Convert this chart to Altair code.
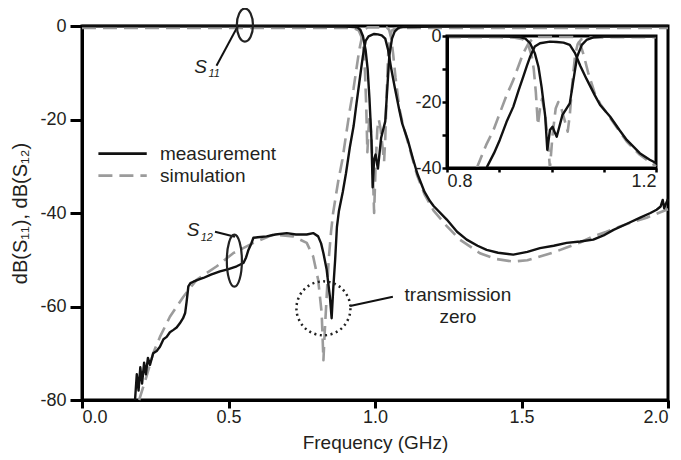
import altair as alt
import pandas as pd
import numpy as np

# ---------------- data ----------------
s11_meas_f = [0.0, 0.5, 0.9, 0.94, 0.95, 0.959, 0.968, 0.975, 0.981, 0.988,
              0.992, 0.997, 1.002, 1.007, 1.010, 1.015, 1.021, 1.029, 1.035, 1.042,
              1.049, 1.058, 1.067, 1.08, 1.1, 1.2, 2.0]
s11_meas_db = [0, 0, -0.1, -0.3, -0.8, -2.2, -5.2, -9.3, -15.4, -24.4,
               -34.5, -28.5, -27.5, -29.5, -30.5, -27.5, -23.9, -21.9, -20.4, -13.3,
               -6.3, -2.7, -1.2, -0.4, -0.2, -0.1, 0]

s11_sim_f = [0.0, 0.9, 0.93, 0.945, 0.955, 0.962, 0.966, 0.97, 0.974, 0.978,
             0.982, 0.988, 0.993, 0.997, 1.002, 1.008, 1.013, 1.019, 1.026, 1.031,
             1.035, 1.04, 1.045, 1.05, 1.057, 1.07, 1.1, 2.0]
s11_sim_db = [-0.4, -0.4, -0.5, -1.0, -2.5, -6, -10, -17, -27, -22,
              -19, -24, -32, -40, -30, -22, -20, -22, -26, -29,
              -24, -14, -6, -2.5, -1.0, -0.5, -0.4, -0.4]

s12_meas_f = [0.181, 0.187, 0.193, 0.199, 0.205, 0.212, 0.218, 0.225, 0.232, 0.243,
              0.255, 0.266, 0.278, 0.289, 0.300, 0.312, 0.323, 0.334, 0.345, 0.352,
              0.357, 0.363, 0.370, 0.380, 0.395, 0.414, 0.440, 0.471, 0.500, 0.528,
              0.551, 0.560, 0.568, 0.578, 0.585, 0.600, 0.630, 0.660, 0.699, 0.730,
              0.767, 0.789, 0.806, 0.816, 0.824, 0.835, 0.846, 0.852, 0.858, 0.864,
              0.870, 0.877, 0.890, 0.901, 0.914, 0.927, 0.937, 0.946, 0.953, 0.959,
              0.968, 0.978, 0.997, 1.010, 1.023, 1.035, 1.045, 1.055, 1.067, 1.083,
              1.093, 1.112, 1.130, 1.144, 1.169, 1.188, 1.200, 1.245, 1.280, 1.313,
              1.350, 1.381, 1.420, 1.472, 1.520, 1.563, 1.610, 1.654, 1.700, 1.745,
              1.780, 1.814, 1.860, 1.905, 1.940, 1.961, 1.975, 1.982, 1.987, 1.993, 2.000]
s12_meas_db = [-80, -74.5, -78, -73, -76.5, -72, -74.5, -71, -72.5, -70,
               -69.5, -68.6, -67, -66.5, -65.5, -65, -64.5, -63.6, -62.5, -61.4,
               -59, -55.7, -55, -54.7, -54.3, -53.9, -53.2, -52.5, -52, -51.4,
               -50.7, -49.5, -47.9, -46.5, -45.3, -45.2, -45, -44.6, -44.3, -44.6,
               -44.6, -44.3, -45, -46.5, -48.6, -52.1, -57.9, -62.5, -55.7, -50,
               -43, -39.5, -35.5, -31.5, -26, -21.4, -16.5, -12.3, -9, -6.3,
               -3.2, -2.2, -1.7, -1.8, -2, -2.7, -5.2, -9, -13, -18,
               -20.9, -24.4, -28.5, -31.5, -35.5, -37.5, -38.5, -41.4, -44, -45.7,
               -47, -47.9, -48.5, -48.9, -48.3, -47.5, -47, -46.4, -46.1, -45.7,
               -44.8, -43.6, -42.3, -41, -40, -39.3, -38.6, -37.2, -39, -38, -37]

s12_sim_f = [0.195, 0.22, 0.243, 0.266, 0.300, 0.346, 0.391, 0.460, 0.516, 0.585,
             0.653, 0.721, 0.767, 0.789, 0.806, 0.818, 0.824, 0.828, 0.835, 0.842,
             0.850, 0.857, 0.875, 0.889, 0.901, 0.914, 0.927, 0.937, 0.946, 0.956,
             0.965, 0.975, 1.040, 1.048, 1.055, 1.062, 1.070, 1.083, 1.093, 1.112,
             1.144, 1.169, 1.200, 1.245, 1.290, 1.358, 1.410, 1.472, 1.520, 1.563,
             1.610, 1.654, 1.700, 1.745, 1.790, 1.836, 1.880, 1.927, 1.960, 1.995, 2.0]
s12_sim_db = [-80, -75, -70, -66.5, -62.2, -57.9, -54.3, -51.4, -48.6, -46.4,
              -44.6, -45, -46.4, -49.3, -54.3, -61.4, -71.5, -66, -57.9, -50,
              -44, -40, -33, -28.5, -23.4, -18, -13.3, -9, -5.2, -2.2,
              -0.7, -0.3, -0.3, -0.8, -2.5, -6, -11, -17.5, -20.5, -24.8,
              -32, -36, -39.5, -42.8, -45.7, -48.6, -49.8, -50.4, -50.1, -49.3,
              -48.4, -47.4, -46.3, -45, -44, -42.9, -41.9, -41, -40.2, -39.3, -39.2]

x_ticks = [0.0, 0.5, 1.0, 1.5, 2.0]
y_ticks = [0, -20, -40, -60, -80]
inset_x_ticks = [0.8, 0.9, 1.0, 1.1, 1.2]
inset_y_ticks = [0, -10, -20, -30, -40]

legend_labels = ["measurement", "simulation"]
note_lines = ["transmission", "zero"]

# ---------------- style ----------------
GRAY = '#9b9b9b'
BLACK = '#111111'
TXT = '#231f20'
FONT = 'Liberation Sans'
W, H = 586, 374
DASH = [14, 7]


def curve_df(pairs):
    frames = []
    for name, f, d in pairs:
        frames.append(pd.DataFrame({'f': f, 'dB': d, 'curve': name,
                                    'i': np.arange(len(f))}))
    return pd.concat(frames, ignore_index=True)


def clip_seg(x0, y0, x1, y1, xmin, xmax, ymin, ymax):
    dx, dy = x1 - x0, y1 - y0
    u0, u1 = 0.0, 1.0
    for p, q in ((-dx, x0 - xmin), (dx, xmax - x0), (-dy, y0 - ymin), (dy, ymax - y0)):
        if p == 0:
            if q < 0:
                return None
        else:
            t = q / p
            if p < 0:
                u0 = max(u0, t)
            else:
                u1 = min(u1, t)
    if u0 > u1:
        return None
    return x0 + u0 * dx, y0 + u0 * dy, x0 + u1 * dx, y0 + u1 * dy


def clipped_df(pairs, xmin, xmax, ymin, ymax):
    rows = []
    for name, f, d in pairs:
        piece, last = 0, None
        for k in range(len(f) - 1):
            seg = clip_seg(f[k], d[k], f[k + 1], d[k + 1], xmin, xmax, ymin, ymax)
            if seg is None:
                last = None
                continue
            a, b, c, e = seg
            if last is None or abs(last[0] - a) > 1e-12 or abs(last[1] - b) > 1e-12:
                piece += 1
                rows.append((a, b, f'{name}-{piece}'))
            rows.append((c, e, f'{name}-{piece}'))
            last = (c, e)
    df = pd.DataFrame(rows, columns=['f', 'dB', 'curve'])
    df['i'] = np.arange(len(df))
    return df


sim_pairs = [('S11', s11_sim_f, s11_sim_db), ('S12', s12_sim_f, s12_sim_db)]
meas_pairs = [('S11', s11_meas_f, s11_meas_db), ('S12', s12_meas_f, s12_meas_db)]

# ---------------- main panel ----------------
mx = alt.Scale(domain=[0, 2], nice=False, zero=False)
my = alt.Scale(domain=[-80, 0], nice=False, zero=False)

X = alt.X('f:Q', scale=mx, axis=alt.Axis(
    values=x_ticks, format='.1f', title='Frequency (GHz)', grid=False,
    domainColor='black', domainWidth=3, tickColor='black', tickWidth=3, tickSize=8,
    labelFontSize=18, labelColor=TXT, labelPadding=0, labelFont=FONT,
    titleFontSize=19, titleFontWeight='normal', titleColor=TXT, titleFont=FONT,
    titleX=W / 2, titleY=42, titleBaseline='middle', titleAlign='center'))
Y = alt.Y('dB:Q', scale=my, axis=alt.Axis(
    values=y_ticks, labelExpr="'' + datum.value", title='dB(S₁₁), dB(S₁₂)', grid=False,
    domainColor='black', domainWidth=3, tickColor='black', tickWidth=3, tickSize=12,
    labelFontSize=18, labelColor=TXT, labelPadding=4, labelFont=FONT,
    titleFontSize=20, titleFontWeight='normal', titleColor=TXT, titleFont=FONT,
    titleX=-62, titleY=H / 2, titleAngle=270, titleBaseline='middle', titleAlign='center'))

main_sim = alt.Chart(curve_df(sim_pairs)).mark_line(
    color=GRAY, strokeWidth=2.6, strokeDash=DASH, strokeJoin='round').encode(
    x=X, y=Y, detail='curve:N', order='i:Q')
main_meas = alt.Chart(curve_df(meas_pairs)).mark_line(
    color=BLACK, strokeWidth=2.4, strokeJoin='round').encode(
    x=X, y=Y, detail='curve:N', order='i:Q')

# legend (drawn inside the plot)
leg_meas = alt.Chart(pd.DataFrame({'f': [0.056], 'f2': [0.221], 'dB': [-27.3]})).mark_rule(
    color=BLACK, strokeWidth=2.6).encode(x=X, x2='f2:Q', y=Y)
leg_sim = alt.Chart(pd.DataFrame({'f': [0.056], 'f2': [0.221], 'dB': [-32.0]})).mark_rule(
    color=GRAY, strokeWidth=2.6, strokeDash=DASH).encode(x=X, x2='f2:Q', y=Y)
leg_text = alt.Chart(pd.DataFrame({'f': [0.266, 0.266], 'dB': [-27.3, -32.0],
                                   'label': legend_labels})).mark_text(
    align='left', baseline='middle', fontSize=19, font=FONT, color=TXT).encode(
    x=X, y=Y, text='label:N')

# annotations
leaders = alt.Chart(pd.DataFrame({
    'f': [0.459, 0.454, 0.915], 'f2': [0.532, 0.522, 1.061],
    'dB': [-8.5, -44.0, -59.9], 'dB2': [0.0, -45.1, -57.9]})).mark_rule(
    color=BLACK, strokeWidth=2).encode(x=X, x2='f2:Q', y=Y, y2='dB2:Q')

ell_path = ("M0,-1 C0.27,-1 0.49,-0.55 0.49,0 C0.49,0.55 0.27,1 0,1 "
            "C-0.27,1 -0.49,0.55 -0.49,0 C-0.49,-0.55 -0.27,-1 0,-1 Z")
ell_s11 = alt.Chart(pd.DataFrame({'f': [0.556], 'dB': [0.2]})).mark_point(
    shape=ell_path, size=1089, filled=False, color='#222222', strokeWidth=2.2,
    opacity=1).encode(x=X, y=Y)
ell_path2 = ("M0,-1 C0.16,-1 0.29,-0.55 0.29,0 C0.29,0.55 0.16,1 0,1 "
             "C-0.16,1 -0.29,0.55 -0.29,0 C-0.29,-0.55 -0.16,-1 0,-1 Z")
ell_s12 = alt.Chart(pd.DataFrame({'f': [0.520], 'dB': [-50.2]})).mark_point(
    shape=ell_path2, size=2704, filled=False, color='#222222', strokeWidth=2.2,
    opacity=1).encode(x=X, y=Y)
tz_circle = alt.Chart(pd.DataFrame({'f': [0.824], 'dB': [-60.4]})).mark_point(
    shape='circle', size=2916, filled=False, color='#222222', strokeWidth=2.5,
    strokeDash=[2, 3.5], opacity=1).encode(x=X, y=Y)

s_big = alt.Chart(pd.DataFrame({'f': [0.405, 0.379], 'dB': [-8.8, -43.6],
                                't': ['S', 'S']})).mark_text(
    align='center', baseline='middle', fontSize=19, fontStyle='italic', font=FONT,
    color=TXT).encode(x=X, y=Y, text='t:N')
s_sub = alt.Chart(pd.DataFrame({'f': [0.451, 0.426], 'dB': [-10.3, -45.3],
                                't': ['11', '12']})).mark_text(
    align='center', baseline='middle', fontSize=11, fontStyle='italic', font=FONT,
    color=TXT).encode(x=X, y=Y, text='t:N')
tz_text = alt.Chart(pd.DataFrame({'f': [1.283, 1.283], 'dB': [-57.5, -62.2],
                                  't': note_lines})).mark_text(
    align='center', baseline='middle', fontSize=19, font=FONT, color=TXT).encode(
    x=X, y=Y, text='t:N')

main = alt.layer(main_sim, main_meas, leg_meas, leg_sim, leg_text, leaders,
                 ell_s11, ell_s12, tz_circle, s_big, s_sub, tz_text)

# ---------------- inset panel ----------------
ix = alt.Scale(domain=[0.8, 1.2], range=[365, 574], nice=False, zero=False)
iy = alt.Scale(domain=[-40, 0], range=[142, 10], nice=False, zero=False)
IX = alt.X('f:Q', scale=ix, axis=alt.Axis(
    orient='bottom', offset=142 - H, values=inset_x_ticks,
    labelExpr="(datum.value < 0.85 || datum.value > 1.15) ? format(datum.value, '.1f') : ''",
    title=None, grid=False, zindex=1, domainColor='black', domainWidth=3,
    tickColor='black', tickWidth=2.5, tickSize=4, labelFontSize=18, labelColor=TXT,
    labelFont=FONT, labelPadding=0))
IY = alt.Y('dB:Q', scale=iy, axis=alt.Axis(
    orient='left', offset=-365, values=inset_y_ticks,
    labelExpr="datum.value % 20 == 0 ? '' + datum.value : ''",
    title=None, grid=False, zindex=1, domainColor='black', domainWidth=3,
    tickColor='black', tickWidth=2.5, tickSize=5, labelFontSize=18, labelColor=TXT,
    labelFont=FONT, labelPadding=1))

inset_frame = alt.Chart(pd.DataFrame({'f': [0.8], 'f2': [1.2], 'dB': [-40], 'dB2': [0]})).mark_rect(
    fill='white', stroke='black', strokeWidth=3).encode(x=IX, x2='f2:Q', y=IY, y2='dB2:Q')
inset_sim = alt.Chart(clipped_df(sim_pairs, 0.8, 1.2, -40, 0)).mark_line(
    color=GRAY, strokeWidth=2.6, strokeDash=DASH, strokeJoin='round').encode(
    x=IX, y=IY, detail='curve:N', order='i:Q')
inset_meas = alt.Chart(clipped_df(meas_pairs, 0.8, 1.2, -40, 0)).mark_line(
    color=BLACK, strokeWidth=2.4, strokeJoin='round').encode(
    x=IX, y=IY, detail='curve:N', order='i:Q')
inset = alt.layer(inset_frame, inset_sim, inset_meas)

chart = alt.layer(main, inset).resolve_scale(x='independent', y='independent').properties(
    width=W, height=H,
    autosize=alt.AutoSizeParams(type='none'),
    padding={'left': 74, 'top': 18, 'right': 5, 'bottom': 56},
).configure(font=FONT).configure_view(stroke='black', strokeWidth=3)

chart.save("out.html", embed_options={"renderer": "svg", "actions": False})
